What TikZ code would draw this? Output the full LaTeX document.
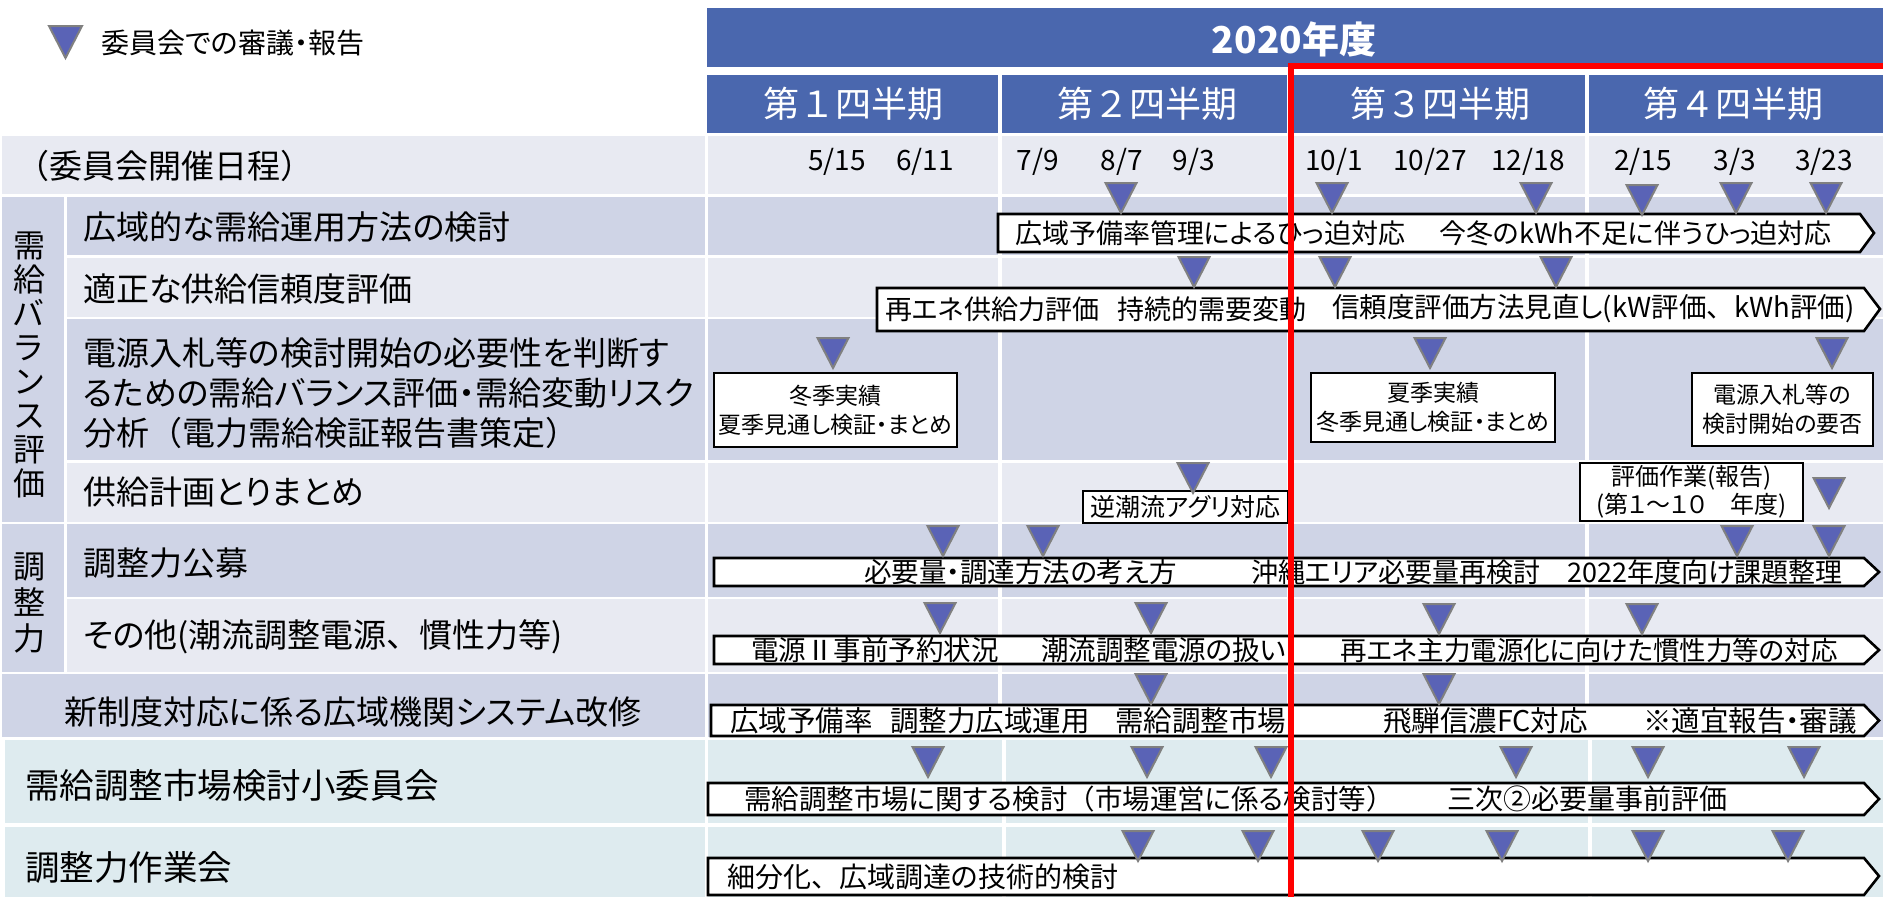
\documentclass[tikz,border=0pt]{standalone}
\usepackage{fontspec}
\setmainfont{Noto Sans CJK JP}[RawFeature=+palt]
\newfontfamily\jpf{Noto Sans CJK JP}
\definecolor{hdr}{HTML}{4A67AE}
\definecolor{dk}{HTML}{CFD4E6}
\definecolor{lt}{HTML}{E8EAF2}
\definecolor{tl}{HTML}{DEEBEF}
\definecolor{trif}{HTML}{5A63B6}
\definecolor{trid}{HTML}{808080}
\newcommand\myfs[2]{\fontsize{#1}{#2}\selectfont}
\newcommand\fw[1]{{\jpf #1}}
\begin{document}
\begin{tikzpicture}[x=1pt,y=-1pt,
  hcell/.style={fill=hdr},
  tri/.style={fill=trif,draw=trid,line width=2pt,line join=miter},
  bar/.style={draw=black,line width=2.6pt,fill=white,line join=miter},
  bt/.style={anchor=west,inner sep=0pt,font=\myfs{27.5}{30}},
  lab/.style={anchor=west,inner sep=0pt,font=\myfs{33}{40},align=left},
  qh/.style={text=white,inner sep=0pt,font=\jpf\myfs{36}{40}},
  dt/.style={inner sep=0pt,font=\myfs{28}{30}},
  box/.style={draw=black,line width=2.4pt,fill=white,align=center,inner sep=0pt},
]
\useasboundingbox (0,0) rectangle (1883,897);
% legend
\filldraw[tri] (49,26) -- (82,26) -- (65.5,58) -- cycle;
\node[anchor=west,inner sep=0pt,font=\myfs{28}{30}] (legend) at (101,43) {委員会での審議・報告};
% headers
\fill[hcell] (707,8) rectangle (1883,67);
\node[text=white,inner sep=0pt,font=\myfs{37}{40}\bfseries] (year) at (1294,39) {2020年度};
\fill[hcell] (707,75) rectangle (998,133);
\fill[hcell] (1002,75) rectangle (1287,133);
\fill[hcell] (1291,75) rectangle (1585,133);
\fill[hcell] (1589,75) rectangle (1883,133);
\node[qh] (q1) at (853,104) {第１四半期};
\node[qh] (q2) at (1147,104) {第２四半期};
\node[qh] (q3) at (1440,104) {第３四半期};
\node[qh] (q4) at (1733,104) {第４四半期};
% row backgrounds (right cells)
\foreach \ya/\yb/\c in {136/194/lt,197/255/dk,258/317/lt,319/460/dk,463/522/lt,524/597/dk,599/672/lt,674/737/dk}{
  \fill[\c] (708,\ya) rectangle (998,\yb);
  \fill[\c] (1002,\ya) rectangle (1287,\yb);
  \fill[\c] (1291,\ya) rectangle (1585,\yb);
  \fill[\c] (1589,\ya) rectangle (1883,\yb);
}
\foreach \ya/\yb in {740/823,827/897}{
  \fill[tl] (708,\ya) rectangle (1002,\yb);
  \fill[tl] (1006,\ya) rectangle (1287,\yb);
  \fill[tl] (1291,\ya) rectangle (1588,\yb);
  \fill[tl] (1592,\ya) rectangle (1883,\yb);
}
% left cells
\fill[lt] (2,136) rectangle (705,194);
\fill[dk] (2,197) rectangle (64,522);
\fill[dk] (67,197) rectangle (705,255);
\fill[lt] (67,258) rectangle (705,317);
\fill[dk] (67,319) rectangle (705,460);
\fill[lt] (67,463) rectangle (705,522);
\fill[dk] (2,524) rectangle (64,672);
\fill[dk] (67,524) rectangle (705,597);
\fill[lt] (67,599) rectangle (705,672);
\fill[dk] (2,674) rectangle (705,737);
\fill[tl] (5,740) rectangle (705,823);
\fill[tl] (5,827) rectangle (705,897);
% left labels
\node[lab] (l0) at (16,166) {\fw{（}委員会開催日程\fw{）}};
\node[inner sep=0pt,align=center,font=\myfs{32}{34}] (g1) at (29,365) {需\\給\\バ\\ラ\\ン\\ス\\評\\価};
\node[inner sep=0pt,align=center,font=\myfs{32}{36}] (g2) at (29,603) {調\\整\\力};
\node[lab] (l1) at (83,227) {広域的な需給運用方法の検討};
\node[lab] (l2) at (83,289) {適正な供給信頼度評価};
\node[lab] (l3) at (83,393) {電源入札等の検討開始の必要性を判断す\\るための需給バランス評価・需給変動リスク\\分析\fw{（}電力需給検証報告書策定\fw{）}};
\node[lab] (l4) at (83,492) {供給計画とりまとめ};
\node[lab] (l5) at (83,563) {調整力公募};
\node[lab] (l6) at (83,637) {その他(潮流調整電源\fw{、}慣性力等)};
\node[lab] (l7) at (64,712) {新制度対応に係る広域機関システム改修};
\node[lab,font=\myfs{34.5}{40}] (l8) at (25,785) {需給調整市場検討小委員会};
\node[lab,font=\myfs{34.5}{40}] (l9) at (25,867) {調整力作業会};
% dates
\foreach \x/\d [count=\i] in {837/{5/15},925/{6/11},1038/{7/9},1122/{8/7},1194/{9/3},1334/{10/1},1430/{10/27},1528/{12/18},1643/{2/15},1735/{3/3},1824/{3/23}}
  \node[dt] (d\i) at (\x,162) {\d};
% bars
\draw[bar] (998,214) -- (1860,214) -- (1874,233) -- (1860,252) -- (998,252) -- cycle;
\node[bt,font=\myfs{27}{30}] (b1a) at (1015,233) {広域予備率管理によるひっ迫対応};
\node[bt,font=\myfs{27}{30}] (b1b) at (1439,233) {今冬のkWh不足に伴うひっ迫対応};
\draw[bar] (877,288) -- (1864,288) -- (1880,309) -- (1864,331) -- (877,331) -- cycle;
\node[bt,font=\myfs{27}{30}] (b2a) at (885,309) {再エネ供給力評価};
\node[bt,font=\myfs{27}{30}] (b2b) at (1117,309) {持続的需要変動};
\node[bt,font=\myfs{27.5}{30}] (b2c) at (1332,309) {信頼度評価方法見直し(kW評価\fw{、}kWh評価)};
\node[box,minimum width=243pt,minimum height=74pt,font=\myfs{23}{29}] (x1) at (835.5,410) {冬季実績\\夏季見通し検証・まとめ};
\node[box,minimum width=244pt,minimum height=69pt,font=\myfs{23}{29}] (x2) at (1433,407.5) {夏季実績\\冬季見通し検証・まとめ};
\node[box,minimum width=181pt,minimum height=73pt,font=\myfs{23}{29}] (x3) at (1782.5,409.5) {電源入札等の\\検討開始の要否};
\node[box,minimum width=205pt,minimum height=32pt,font=\myfs{25}{28}] (x4) at (1185.5,507) {逆潮流アグリ対応};
\node[box,minimum width=223pt,minimum height=58pt,font=\myfs{24}{28}] (x5) at (1691.5,492) {評価作業(報告)\\(第１～１０　年度)};
\draw[bar] (714,558) -- (1864,558) -- (1879,572) -- (1864,586) -- (714,586) -- cycle;
\node[bt] (b5a) at (864,572) {必要量・調達方法の考え方};
\node[bt,font=\myfs{27}{30}] (b5b) at (1251,572) {沖縄エリア必要量再検討　2022年度向け課題整理};
\draw[bar] (714,636) -- (1864,636) -- (1879,650) -- (1864,664) -- (714,664) -- cycle;
\node[bt] (b6a) at (751,650) {電源Ⅱ事前予約状況};
\node[bt] (b6b) at (1041,650) {潮流調整電源の扱い};
\node[bt,font=\myfs{26.5}{30}] (b6c) at (1340,650) {再エネ主力電源化に向けた慣性力等の対応};
\draw[bar] (711,705) -- (1864,705) -- (1879,720.5) -- (1864,736) -- (711,736) -- cycle;
\node[bt,font=\myfs{28.5}{30}] (b7a) at (730,721) {広域予備率};
\node[bt,font=\myfs{28.5}{30}] (b7b) at (890,721) {調整力広域運用};
\node[bt,font=\myfs{28.5}{30}] (b7c) at (1115,721) {需給調整市場};
\node[bt,font=\myfs{28.5}{30}] (b7d) at (1383,721) {飛騨信濃FC対応};
\node[bt,font=\myfs{28.5}{30}] (b7e) at (1643,721) {※適宜報告・審議};
\draw[bar] (708,783) -- (1864,783) -- (1879,799) -- (1864,815) -- (708,815) -- cycle;
\node[bt,font=\myfs{27.5}{30}] (b8a) at (744,799) {需給調整市場に関する検討\fw{（}市場運営に係る検討等\fw{）}};
\node[bt,font=\myfs{28}{30}] (b8b) at (1447,799) {三次②必要量事前評価};
\draw[bar] (708,858) -- (1864,858) -- (1879,876) -- (1864,895) -- (708,895) -- cycle;
\node[bt,font=\myfs{28}{30}] (b9a) at (727,877) {細分化\fw{、}広域調達の技術的検討};
% triangles
\foreach \x/\t in {1121/183,1332/183,1536/183,1642/185,1736/183,1826/183,
  1194/257,1335/257,1556/257,
  833/338,1430/338,1832/338,
  1193/463,1829/478,
  943/526,1043/526,1737/526,1829/526,
  940/603,1151/603,1439/604,1642/604,
  1151/674,1439/674,
  928/747,1147/747,1271/747,1516/747,1648/747,1804/747,
  1138/831,1258/831,1378/831,1502/831,1648/831,1788/831}
  \filldraw[tri] (\x-15.5,\t) -- (\x+15.5,\t) -- (\x,\t+30) -- cycle;
% red line
\coordinate (rtop) at (1291,66);
\coordinate (rright) at (1883,66);
\coordinate (rbot) at (1291,897);
\draw[red,line width=6pt] (rbot) -- (rtop) -- (rright);
\end{tikzpicture}
\end{document}
